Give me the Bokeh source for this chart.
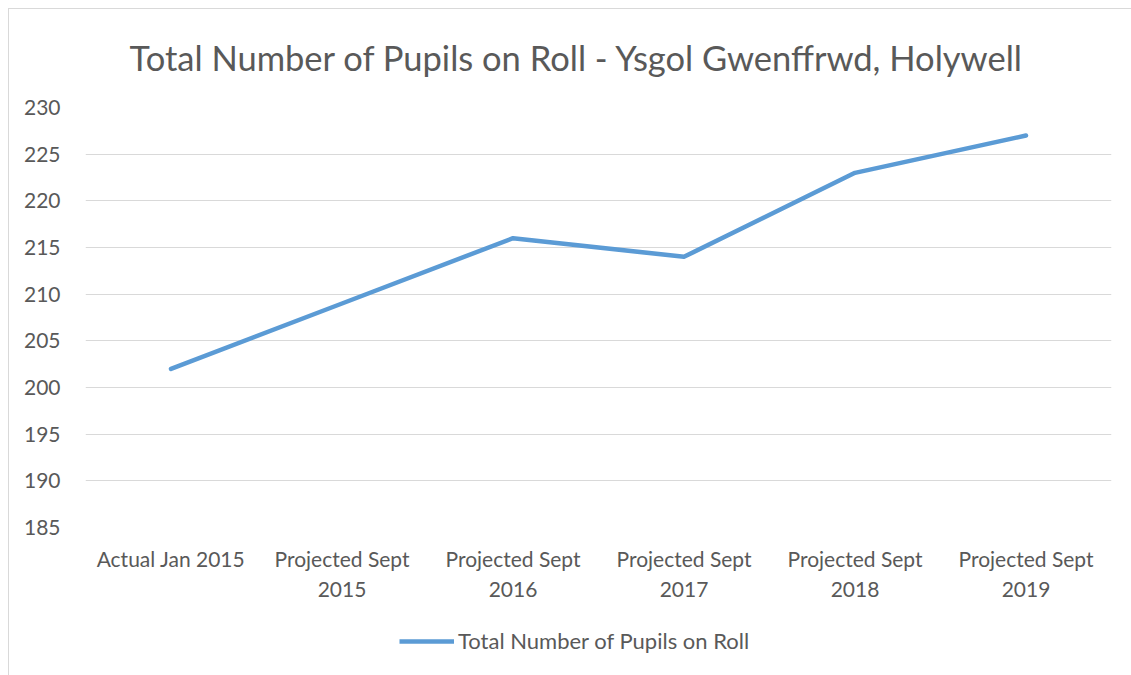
from bokeh.plotting import figure
from bokeh.layouts import column
from bokeh.models import Legend, LegendItem, Title, SingleIntervalTicker
from bokeh.embed import file_html
from bokeh.resources import INLINE

categories = ["Actual Jan 2015", "Projected Sept\n2015", "Projected Sept\n2016",
              "Projected Sept\n2017", "Projected Sept\n2018", "Projected Sept\n2019"]
pupils = [202, 209, 216, 214, 223, 227]
series_name = "Total Number of Pupils on Roll"
title_text = "Total Number of Pupils on Roll - Ysgol Gwenffrwd, Holywell"

FONT = "Lato"
GREY = "#595959"
BLUE = "#5b9bd5"

p = figure(x_range=categories, y_range=(185, 230), width=1122, height=611,
           output_backend="svg", toolbar_location=None,
           min_border_left=76, min_border_right=20, min_border_top=98, min_border_bottom=93)

r = p.line(x=categories, y=pupils, line_color=BLUE, line_width=4.5, line_cap="round", line_join="round")

t = Title(text=title_text, align="left", offset=44, vertical_align="top",
          text_font=FONT, text_font_size="34.5px",
          text_font_style="normal", text_color=GREY, standoff=55)
p.add_layout(t, "above")

p.outline_line_color = None
p.background_fill_color = "white"
p.border_fill_color = "white"

p.xgrid.grid_line_color = None
p.ygrid.grid_line_color = "#d9d9d9"
p.ygrid.grid_line_width = 1

p.yaxis.ticker = SingleIntervalTicker(interval=5)
for ax in (p.xaxis[0], p.yaxis[0]):
    ax.axis_line_color = None
    ax.major_tick_line_color = None
    ax.minor_tick_line_color = None
    ax.major_label_text_font = FONT
    ax.major_label_text_font_size = "21px"
    ax.major_label_text_color = GREY
p.yaxis.major_label_standoff = 19
p.xaxis.major_label_standoff = 12

# legend strip below the chart
lg = figure(x_range=categories, y_range=(0, 1), width=1122, height=55,
            output_backend="svg", toolbar_location=None,
            x_axis_type=None, y_axis_type=None, min_border=0)
lg.outline_line_color = None
lg.xgrid.grid_line_color = None
lg.ygrid.grid_line_color = None
lr = lg.line(x=categories, y=pupils, line_color=BLUE, line_width=4.5, visible=False)
legend = Legend(items=[LegendItem(label=series_name, renderers=[lr])], location=(314, 21),
                orientation="horizontal", border_line_color=None, background_fill_alpha=0,
                label_text_font=FONT, label_text_font_size="22px", label_text_color=GREY,
                glyph_width=55, glyph_height=20, label_standoff=4, padding=0, margin=0)
lg.add_layout(legend, "center")

layout = column(p, lg, spacing=0)
layout.styles = {"margin-left": "8px", "margin-top": "8px",
                 "border-left": "1px solid #d9d9d9", "border-top": "1px solid #d9d9d9"}

open("out.html", "w").write(file_html(layout, INLINE))
